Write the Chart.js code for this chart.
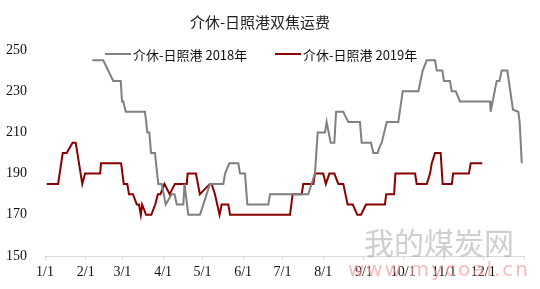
<!DOCTYPE html>
<html>
<head>
<meta charset="utf-8">
<script src="https://cdn.jsdelivr.net/npm/chart.js@4.4.1/dist/chart.umd.min.js"></script>
<style>
  html, body { margin: 0; padding: 0; background: #fff; }
  #wrap { width: 540px; height: 289px; }
</style>
</head>
<body>
<div id="wrap"><canvas id="chart"></canvas></div>
<script>
// Chart data (x = day of year, 0 = Jan 1)
const chartTitle = '介休-日照港双焦运费';
const seriesLabels = ['介休-日照港 2018年', '介休-日照港 2019年'];
const seriesColors = ['#808080', '#8b0000'];

const monthDays = [0, 31, 59, 90, 120, 151, 181, 212, 243, 273, 304, 334, 365];
const monthLabels = ['1/1', '2/1', '3/1', '4/1', '5/1', '6/1', '7/1', '8/1', '9/1', '10/1', '11/1', '12/1', ''];
const yTicks = [150, 170, 190, 210, 230, 250];

const days2018 = [36, 44.4, 52, 57.7, 58.7, 59.7, 61.5, 76.2, 78, 79.5, 80.8, 83.8, 86.3, 88.9, 92, 96.5,
    98.7, 100.4, 105.4, 106.3, 109.2, 118.1, 125.7, 135.9, 137.2, 140.4, 147.3, 148.6, 152.4, 154.2,
    170.2, 171.5, 200.6, 205.7, 207.8, 213.4, 214.6, 217.7, 220.5, 221.8, 227.3, 231.1, 240, 241.3,
    248.4, 250.2, 253.5, 254.7, 256.6, 260.4, 269.2, 272.6, 284.5, 287.8, 290.9, 297.2, 298.5, 302.8,
    304, 308.6, 309.9, 313, 316.2, 339.1, 339.6, 344.2, 346.3, 348, 352.3, 356.6, 360.7, 361.7, 363.3];
const values2018 = [245, 245, 235, 235, 225, 225, 220, 220, 210, 210, 200, 200, 185, 185, 175, 180,
    180, 175, 175, 185, 170, 170, 185, 185, 190, 195, 195, 190, 190, 175,
    175, 180, 180, 190, 210, 210, 215, 205, 205, 220, 220, 215, 215, 205,
    205, 200, 200, 202.5, 205, 215, 215, 230, 230, 240, 245, 245, 240, 240,
    235, 235, 230, 230, 225, 225, 220, 235, 235, 240, 240, 221, 220, 215, 195];

const days2019 = [1.3, 10, 13.5, 16.5, 21, 23.4, 28.4, 30.5, 42, 42.7, 58, 60, 62.7, 64, 67, 70, 71.6,
    73, 74, 77, 81, 84, 86, 88, 91, 95, 99, 108, 108.7, 115, 118, 125.7, 127, 129.5, 133, 134.6,
    139.7, 141, 186.7, 188.7, 195.6, 196.8, 204.5, 205.7, 212, 214, 216.7, 220.5, 223.5, 227.3,
    230.6, 234.5, 238, 240.8, 244.6, 259, 260, 266, 267, 282, 283.2, 290.9, 293.4, 294.7, 297.2,
    301.5, 303, 310, 311, 323, 324.4, 333.2];
const values2019 = [185, 185, 200, 200, 205, 205, 185, 190, 190, 195, 195, 185, 185, 180, 180, 175, 175,
    170, 175, 170, 170, 175, 180, 180, 185, 180, 185, 185, 190, 190, 180, 185, 185, 180, 170, 175,
    175, 170, 170, 180, 180, 185, 185, 190, 190, 185, 190, 190, 185, 185,
    175, 175, 170, 170, 175, 175, 180, 180, 190, 190, 185, 185, 190, 195, 200,
    200, 185, 185, 190, 190, 195, 195];

function toPoints(days, values) {
    return days.map((d, i) => ({ x: d, y: values[i] }));
}

// Title, in-plot legend and watermark
const overlay = {
    id: 'overlay',
    afterDraw(chart) {
        const ctx = chart.ctx;
        ctx.save();

        ctx.fillStyle = '#222';
        ctx.font = '15px "Noto Sans CJK SC", sans-serif';
        ctx.textAlign = 'center';
        ctx.textBaseline = 'middle';
        ctx.fillText(chartTitle, 260, 22);

        // legend
        const legendX = [105, 275];
        ctx.font = '13px "Noto Sans CJK SC", sans-serif';
        ctx.textAlign = 'left';
        chart.data.datasets.forEach((ds, i) => {
            ctx.strokeStyle = ds.borderColor;
            ctx.lineWidth = 2;
            ctx.beginPath();
            ctx.moveTo(legendX[i], 54);
            ctx.lineTo(legendX[i] + 26, 54);
            ctx.stroke();
            ctx.fillStyle = '#111';
            ctx.fillText(ds.label, legendX[i] + 28, 55);
        });

        // watermark
        ctx.globalAlpha = 0.5;
        ctx.fillStyle = '#a0a0a0';
        ctx.font = '30px "Noto Sans CJK SC", sans-serif';
        ctx.fillText('我的煤炭网', 364, 243);
        ctx.globalAlpha = 0.7;
        ctx.fillStyle = '#f0a0a0';
        ctx.font = '20px "DejaVu Sans", sans-serif';
        ctx.letterSpacing = '2px';
        ctx.fillText('www.mycoal.cn', 348, 271);
        ctx.restore();
    }
};

new Chart(document.getElementById('chart'), {
    type: 'line',
    data: {
        datasets: [
            {
                label: seriesLabels[0],
                data: toPoints(days2018, values2018),
                borderColor: seriesColors[0],
                backgroundColor: seriesColors[0],
                borderWidth: 2,
                pointRadius: 0,
                tension: 0
            },
            {
                label: seriesLabels[1],
                data: toPoints(days2019, values2019),
                borderColor: seriesColors[1],
                backgroundColor: seriesColors[1],
                borderWidth: 2,
                pointRadius: 0,
                tension: 0
            }
        ]
    },
    options: {
        responsive: true,
        maintainAspectRatio: false,
        animation: false,
        layout: {
            padding: { top: 50, right: 16, left: 0, bottom: 0 }
        },
        plugins: {
            legend: { display: false },
            title: { display: false },
            tooltip: { enabled: false }
        },
        scales: {
            x: {
                type: 'linear',
                min: 0,
                max: 365,
                afterBuildTicks: scale => {
                    scale.ticks = monthDays.map(v => ({ value: v }));
                },
                afterFit: scale => { scale.height = 33; },
                ticks: {
                    autoSkip: false,
                    maxRotation: 0,
                    padding: 4,
                    color: '#111',
                    font: { family: '"Liberation Serif", serif', size: 14 },
                    callback: function(value) {
                        const i = monthDays.indexOf(value);
                        return i >= 0 ? monthLabels[i] : '';
                    }
                },
                grid: {
                    drawOnChartArea: false,
                    drawTicks: true,
                    tickLength: 4,
                    color: '#d9d9d9'
                },
                border: { color: '#d9d9d9' }
            },
            y: {
                min: 150,
                max: 250,
                afterBuildTicks: scale => {
                    scale.ticks = yTicks.map(v => ({ value: v }));
                },
                afterFit: scale => { scale.width = 45; },
                ticks: {
                    padding: 10,
                    color: '#111',
                    font: { family: '"Liberation Serif", serif', size: 14 }
                },
                grid: { display: false },
                border: { display: false }
            }
        }
    },
    plugins: [overlay]
});
</script>
</body>
</html>
